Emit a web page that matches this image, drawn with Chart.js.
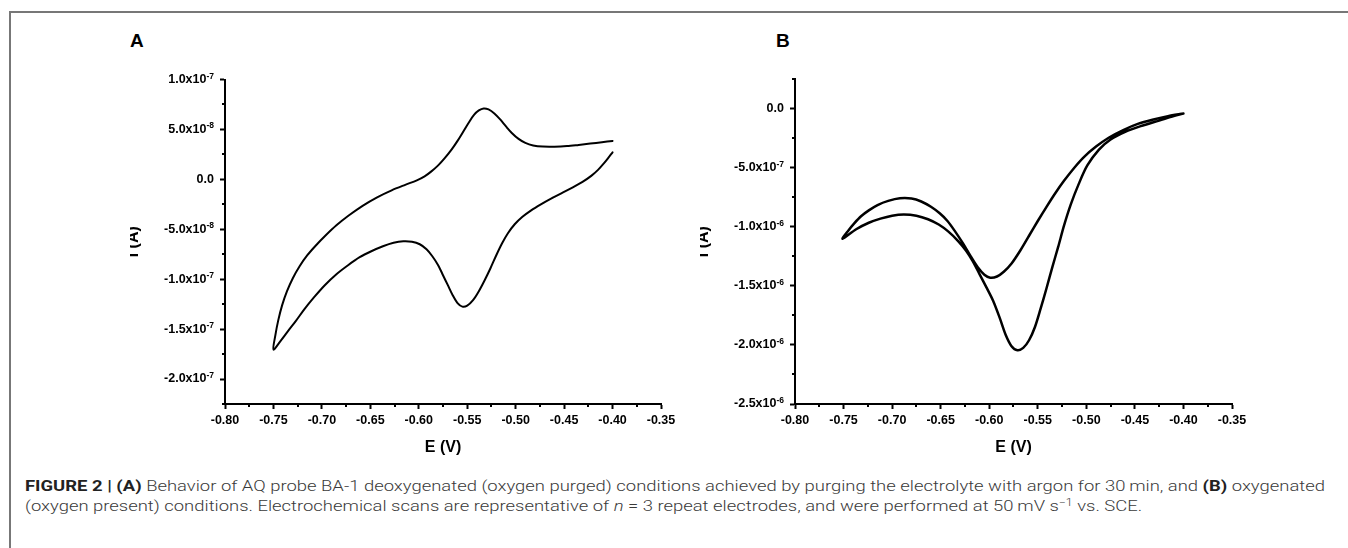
<!DOCTYPE html>
<html><head><meta charset="utf-8">
<script src="https://cdn.jsdelivr.net/npm/chart.js@4.4.1/dist/chart.umd.min.js"></script>
<style>
html,body{margin:0;padding:0;background:#fff;width:1348px;height:548px;overflow:hidden;position:relative;font-family:"Liberation Sans",Arial,sans-serif;}
.frame{position:absolute;left:9px;top:11px;width:1400px;height:600px;border-top:2px solid #777;border-left:2px solid #777;}
.panel{position:absolute;width:560px;height:400px;top:60px;}
.plabel{position:absolute;font:bold 19px "Liberation Sans",Arial,sans-serif;color:#000;line-height:19px;}
#caption{position:absolute;left:25px;top:476px;font-family:Roboto,"Liberation Sans",sans-serif;font-weight:300;font-size:15px;line-height:20px;color:#3a3a3a;white-space:nowrap;transform-origin:0 0;}
#caption b{font-weight:700;color:#222;}
#caption sup{font-size:10px;line-height:0;vertical-align:5px;}
</style></head>
<body>
<div class="frame"></div>
<div class="plabel" style="left:130px;top:31px;">A</div>
<div class="plabel" style="left:776px;top:31px;">B</div>
<div class="panel" style="left:130px;"><canvas id="cA" width="560" height="400"></canvas></div>
<div class="panel" style="left:700px;"><canvas id="cB" width="560" height="400"></canvas></div>
<div id="caption"><div><b>FIGURE 2 | (A)</b> Behavior of AQ probe BA-1 deoxygenated (oxygen purged) conditions achieved by purging the electrolyte with argon for 30&#8201;min, and <b>(B)</b> oxygenated</div><div>(oxygen present) conditions. Electrochemical scans are representative of <i>n</i> = 3 repeat electrodes, and were performed at 50&#8201;mV s<sup>−1</sup> vs. SCE.</div></div>
<script>
// ---- Panel A: deoxygenated CV (E in V, i in A); cathodic sweep then anodic sweep ----
const eA = [-0.400,-0.404,-0.409,-0.415,-0.422,-0.431,-0.441,-0.452,-0.463,-0.474,-0.484,-0.493,-0.501,-0.508,-0.514,-0.520,-0.526,-0.532,-0.538,-0.544,-0.550,-0.555,-0.560,-0.565,-0.570,-0.575,-0.580,-0.586,-0.592,-0.599,-0.607,-0.616,-0.626,-0.637,-0.649,-0.661,-0.673,-0.685,-0.697,-0.708,-0.718,-0.727,-0.735,-0.742,-0.750,
  -0.748,-0.745,-0.741,-0.736,-0.730,-0.723,-0.715,-0.706,-0.696,-0.685,-0.672,-0.658,-0.643,-0.628,-0.614,-0.602,-0.594,-0.587,-0.580,-0.573,-0.566,-0.560,-0.554,-0.548,-0.543,-0.538,-0.533,-0.528,-0.522,-0.516,-0.510,-0.504,-0.497,-0.490,-0.482,-0.472,-0.460,-0.447,-0.435,-0.423,-0.411,-0.400];
const iA = [2.7e-8,2.2e-8,1.6e-8,9.5e-9,3.5e-9,-2.5e-9,-8e-9,-1.35e-8,-1.9e-8,-2.5e-8,-3.1e-8,-3.75e-8,-4.5e-8,-5.4e-8,-6.4e-8,-7.6e-8,-8.9e-8,-1.01e-7,-1.12e-7,-1.21e-7,-1.265e-7,-1.275e-7,-1.24e-7,-1.16e-7,-1.06e-7,-9.6e-8,-8.6e-8,-7.7e-8,-7.0e-8,-6.5e-8,-6.25e-8,-6.2e-8,-6.35e-8,-6.7e-8,-7.2e-8,-7.8e-8,-8.6e-8,-9.5e-8,-1.06e-7,-1.18e-7,-1.30e-7,-1.42e-7,-1.52e-7,-1.61e-7,-1.705e-7,
  -1.56e-7,-1.41e-7,-1.26e-7,-1.12e-7,-9.9e-8,-8.7e-8,-7.6e-8,-6.6e-8,-5.6e-8,-4.6e-8,-3.6e-8,-2.65e-8,-1.8e-8,-1.1e-8,-5.5e-9,-1e-9,3e-9,8e-9,1.4e-8,2.15e-8,3.0e-8,3.85e-8,4.8e-8,5.75e-8,6.45e-8,6.9e-8,7.1e-8,7.0e-8,6.6e-8,6.0e-8,5.3e-8,4.65e-8,4.05e-8,3.65e-8,3.4e-8,3.28e-8,3.27e-8,3.33e-8,3.45e-8,3.58e-8,3.72e-8,3.85e-8];

// ---- Panel B: oxygenated CV (E in V, i in A) ----
const eB = [-0.400,-0.410,-0.425,-0.444,-0.460,-0.475,-0.487,-0.499,-0.508,-0.516,-0.523,-0.529,-0.535,-0.541,-0.547,-0.553,-0.559,-0.565,-0.571,-0.577,-0.583,-0.589,-0.596,-0.603,-0.610,-0.617,-0.624,-0.632,-0.642,-0.652,-0.663,-0.675,-0.688,-0.700,-0.712,-0.724,-0.737,-0.751,
  -0.745,-0.739,-0.732,-0.724,-0.715,-0.704,-0.692,-0.680,-0.670,-0.660,-0.651,-0.643,-0.635,-0.627,-0.619,-0.612,-0.605,-0.599,-0.592,-0.585,-0.577,-0.568,-0.559,-0.550,-0.541,-0.532,-0.523,-0.513,-0.502,-0.490,-0.477,-0.462,-0.447,-0.432,-0.416,-0.400];
const iB = [-4.0e-8,-6.2e-8,-1.0e-7,-1.47e-7,-1.95e-7,-2.6e-7,-3.45e-7,-4.8e-7,-6.4e-7,-8.1e-7,-9.9e-7,-1.17e-6,-1.34e-6,-1.52e-6,-1.69e-6,-1.85e-6,-1.96e-6,-2.025e-6,-2.045e-6,-2.01e-6,-1.915e-6,-1.775e-6,-1.625e-6,-1.51e-6,-1.40e-6,-1.29e-6,-1.20e-6,-1.12e-6,-1.04e-6,-9.8e-7,-9.35e-7,-9.05e-7,-8.95e-7,-9.05e-7,-9.3e-7,-9.65e-7,-1.02e-6,-1.10e-6,
  -1.03e-6,-9.7e-7,-9.1e-7,-8.6e-7,-8.15e-7,-7.8e-7,-7.58e-7,-7.6e-7,-7.85e-7,-8.3e-7,-8.85e-7,-9.5e-7,-1.04e-6,-1.14e-6,-1.25e-6,-1.34e-6,-1.405e-6,-1.43e-6,-1.42e-6,-1.38e-6,-1.31e-6,-1.20e-6,-1.075e-6,-9.5e-7,-8.3e-7,-7.15e-7,-6.1e-7,-5.05e-7,-4.05e-7,-3.2e-7,-2.45e-7,-1.8e-7,-1.28e-7,-9.2e-8,-6.2e-8,-4.0e-8];

// ---- axes ----
const xTickStep = 0.05;
const xRange = [-0.80, -0.35];
const yRangeA = [-2.25e-7, 1.0e-7], yStepA = 5e-8;
const yRangeB = [-2.5e-6, 2.5e-7], yStepB = 5e-7;
const xTitle = 'E (V)', yTitle = 'i (A)';

const FONT = "'Liberation Sans', Arial, Helvetica, sans-serif";
function isMajor(v, step){ return Math.abs(v/step - Math.round(v/step)) < 1e-6; }
function fmtY(v){
  if (Math.abs(v) < 1e-20) return {m:'0.0', e:''};
  const e = Math.floor(Math.log10(Math.abs(v)) + 1e-9);
  return {m:(v/Math.pow(10,e)).toFixed(1) + 'x10', e:String(e)};
}

function decor(yStep){
  return {
    id:'decor',
    afterDraw(chart){
      const ctx = chart.ctx, ca = chart.chartArea, xs = chart.scales.x, ys = chart.scales.y;
      ctx.save();
      ctx.strokeStyle = '#000'; ctx.lineWidth = 2; ctx.lineCap = 'butt';
      const xm = xTickStep/2;
      for (let k = Math.ceil(xs.min/xm - 1e-6); k <= Math.floor(xs.max/xm + 1e-6); k++){
        const v = k*xm; if (isMajor(v, xTickStep)) continue;
        const px = Math.round(xs.getPixelForValue(v));
        ctx.beginPath(); ctx.moveTo(px, ca.bottom); ctx.lineTo(px, ca.bottom + 3); ctx.stroke();
      }
      const ym = yStep/2;
      for (let k = Math.ceil(ys.min/ym - 1e-6); k <= Math.floor(ys.max/ym + 1e-6); k++){
        const v = k*ym; if (isMajor(v, yStep)) continue;
        const py = Math.round(ys.getPixelForValue(v));
        ctx.beginPath(); ctx.moveTo(ca.left, py); ctx.lineTo(ca.left - 3, py); ctx.stroke();
      }
      ctx.fillStyle = '#000';
      for (let k = Math.ceil(ys.min/yStep - 1e-6); k <= Math.floor(ys.max/yStep + 1e-6); k++){
        const v = k*yStep, py = ys.getPixelForValue(v), lab = fmtY(v);
        let xr = ca.left - 11;
        if (lab.e){
          ctx.font = 'bold 8.5px ' + FONT; ctx.textAlign = 'right'; ctx.textBaseline = 'alphabetic';
          ctx.fillText(lab.e, xr, py - 1);
          xr -= ctx.measureText(lab.e).width;
        }
        ctx.font = 'bold 12.5px ' + FONT; ctx.textAlign = 'right'; ctx.textBaseline = 'middle';
        ctx.fillText(lab.m, xr, py);
      }
      ctx.font = 'bold 16px ' + FONT; ctx.textAlign = 'center'; ctx.textBaseline = 'middle';
      ctx.fillText(xTitle, (ca.left + ca.right)/2, ca.bottom + 44);
      ctx.translate(ca.left - 91, (ca.top + ca.bottom)/2);
      ctx.rotate(-Math.PI/2);
      ctx.fillText(yTitle, 0, 0);
      ctx.restore();
    }
  };
}

function makeChart(id, E, I, yRange, yStep, lw, padTop, padRight){
  return new Chart(document.getElementById(id), {
    type:'scatter',
    data:{datasets:[{data:E.map((e,k)=>({x:e, y:I[k]})), showLine:true, borderColor:'#000', backgroundColor:'#000', borderWidth:lw, pointRadius:0, tension:0.3, fill:false, borderJoinStyle:'round', borderCapStyle:'round'}]},
    options:{
      responsive:false, animation:false, events:[],
      layout:{padding:{left:0, top:padTop, right:padRight, bottom:0}},
      plugins:{legend:{display:false}, tooltip:{enabled:false}, title:{display:false}},
      scales:{
        x:{type:'linear', position:'bottom', min:xRange[0], max:xRange[1],
          afterFit(s){ s.height = 56; s.paddingLeft = 0; s.paddingRight = 0; },
          ticks:{stepSize:xTickStep, autoSkip:false, maxRotation:0, padding:4, color:'#000',
            font:{family:FONT, weight:'bold', size:12.5}, callback:v=>Number(v).toFixed(2)},
          grid:{display:true, drawOnChartArea:false, drawTicks:true, tickLength:5, tickWidth:2,
            tickColor:c=> (c.tick && isMajor(c.tick.value, xTickStep)) ? '#000' : 'rgba(0,0,0,0)'},
          border:{display:true, color:'#000', width:2}},
        y:{type:'linear', position:'left', min:yRange[0], max:yRange[1],
          afterFit(s){ s.width = 95; s.paddingTop = 0; s.paddingBottom = 0; },
          ticks:{display:false, stepSize:yStep},
          grid:{display:true, drawOnChartArea:false, drawTicks:true, tickLength:5, tickWidth:2,
            tickColor:c=> (c.tick && isMajor(c.tick.value, yStep)) ? '#000' : 'rgba(0,0,0,0)'},
          border:{display:true, color:'#000', width:2}}
      }
    },
    plugins:[decor(yStep)]
  });
}

makeChart('cA', eA, iA, yRangeA, yStepA, 2, 19.5, 29);
makeChart('cB', eB, iB, yRangeB, yStepB, 2.5, 19.3, 28);

const cap = document.getElementById('caption');
const w = cap.getBoundingClientRect().width;
cap.style.transform = 'scaleX(' + (1300 / w) + ')';
</script>
</body></html>
